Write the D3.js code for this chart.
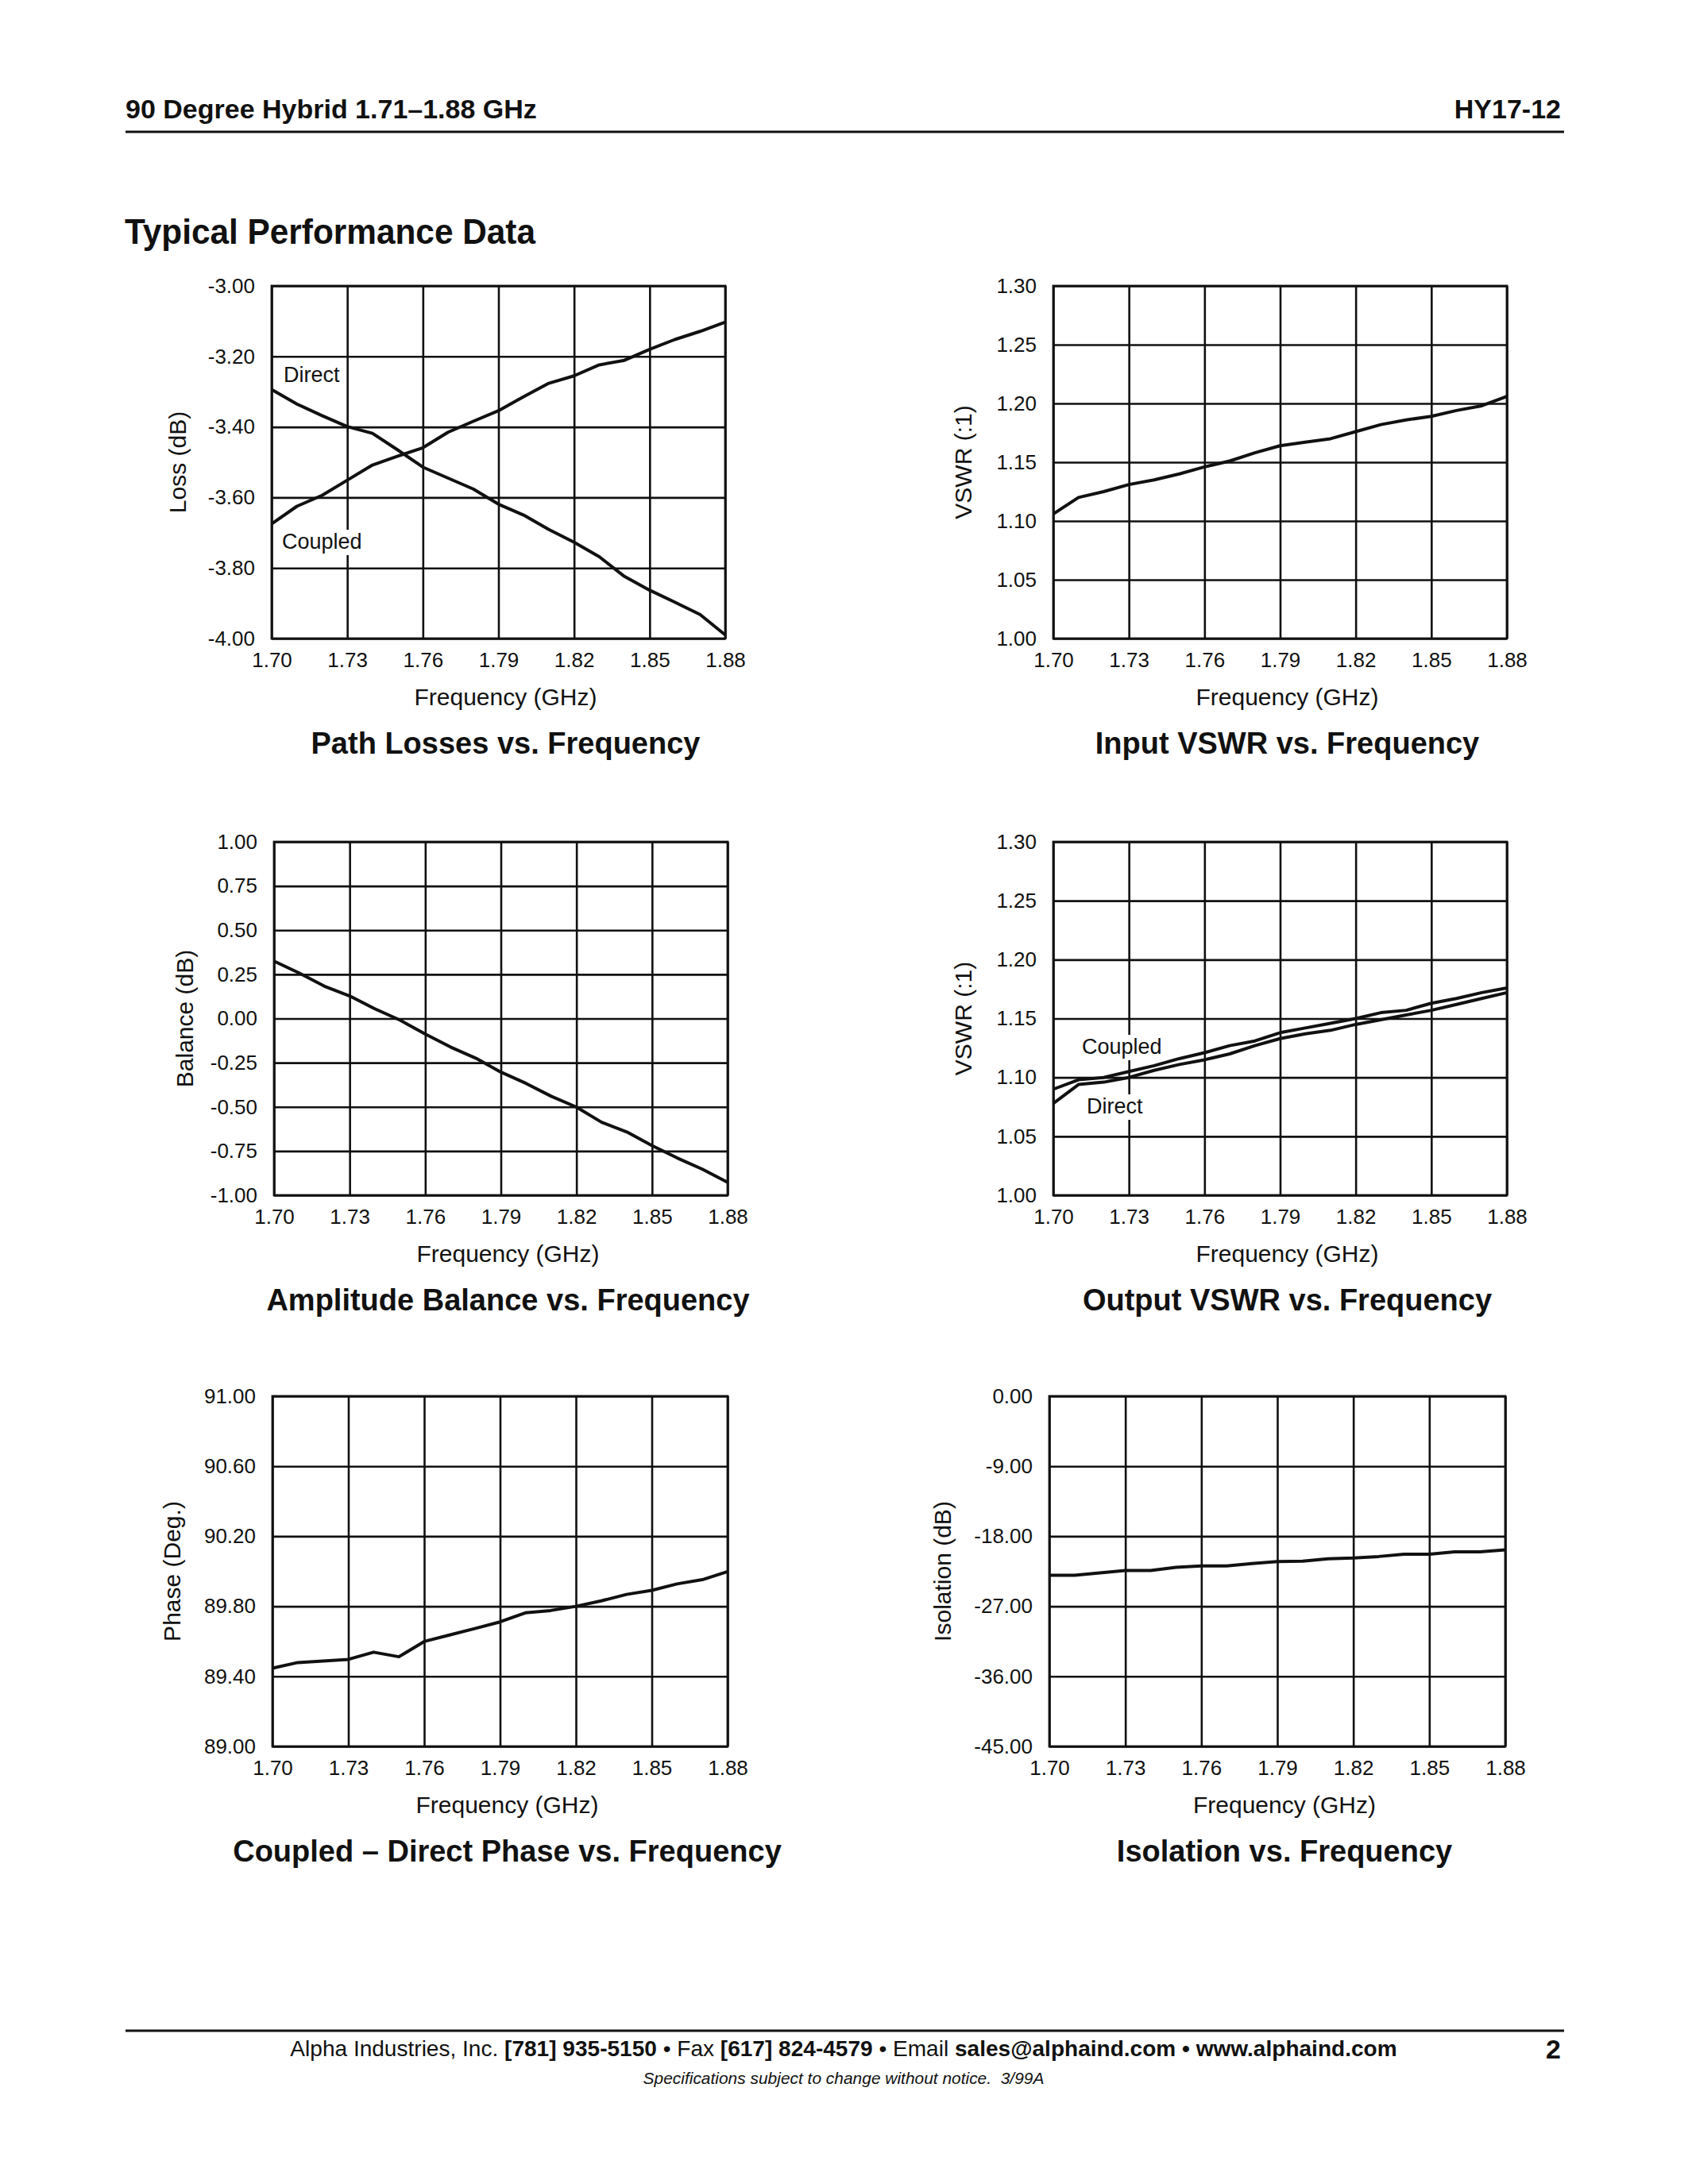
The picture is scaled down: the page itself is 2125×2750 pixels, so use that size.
<!DOCTYPE html>
<html><head><meta charset="utf-8">
<script src="https://cdn.jsdelivr.net/npm/d3@7"></script>
<style>body{margin:0;background:#fff} svg{display:block}</style>
</head><body>
<svg id="c" width="2125" height="2750"></svg>
<script>
// ---------- DATA ----------
const freq = [1.70,1.71,1.72,1.73,1.74,1.75,1.76,1.77,1.78,1.79,1.80,1.81,1.82,1.83,1.84,1.85,1.86,1.87,1.88];
const xTicks = [1.70,1.73,1.76,1.79,1.82,1.85,1.88];

const lossTicks = [-3.00,-3.20,-3.40,-3.60,-3.80,-4.00];
const pathDirect  = [-3.294,-3.335,-3.368,-3.399,-3.418,-3.465,-3.514,-3.545,-3.576,-3.619,-3.650,-3.691,-3.727,-3.768,-3.824,-3.863,-3.897,-3.932,-3.990];
const pathCoupled = [-3.675,-3.625,-3.594,-3.551,-3.508,-3.483,-3.459,-3.415,-3.384,-3.354,-3.314,-3.276,-3.255,-3.224,-3.211,-3.180,-3.152,-3.129,-3.103];

const vswrTicks = [1.30,1.25,1.20,1.15,1.10,1.05,1.00];
const inputVswr = [1.106,1.120,1.125,1.131,1.135,1.140,1.146,1.151,1.158,1.164,1.167,1.170,1.176,1.182,1.186,1.189,1.194,1.198,1.206];

const balanceTicks = [1.00,0.75,0.50,0.25,0.00,-0.25,-0.50,-0.75,-1.00];
const balance = [0.325,0.257,0.183,0.128,0.055,-0.009,-0.088,-0.161,-0.224,-0.303,-0.367,-0.440,-0.501,-0.587,-0.642,-0.719,-0.789,-0.853,-0.927];

const outVswrCoupled = [1.090,1.098,1.100,1.105,1.110,1.116,1.121,1.127,1.131,1.138,1.142,1.146,1.150,1.155,1.157,1.163,1.167,1.172,1.176];
const outVswrDirect  = [1.078,1.094,1.096,1.100,1.106,1.111,1.115,1.120,1.127,1.133,1.137,1.140,1.145,1.149,1.153,1.157,1.162,1.167,1.172];

const phaseTicks = [91.00,90.60,90.20,89.80,89.40,89.00];
const phase = [89.447,89.479,89.488,89.497,89.538,89.512,89.599,89.636,89.673,89.711,89.763,89.776,89.800,89.831,89.868,89.891,89.928,89.952,89.998];

const isolationTicks = [0.00,-9.00,-18.00,-27.00,-36.00,-45.00];
const isolation = [-23.0,-23.0,-22.7,-22.4,-22.4,-22.0,-21.8,-21.8,-21.5,-21.25,-21.2,-20.9,-20.8,-20.6,-20.3,-20.3,-20.0,-20.0,-19.75];

// ---------- DRAW ----------
const FONT = "'Liberation Sans', Arial, Helvetica, sans-serif";
const svg = d3.select('#c');
svg.append('rect').attr('width',2125).attr('height',2750).attr('fill','#fff');

// Header
svg.append('text').attr('x',158).attr('y',149).attr('font-family',FONT).attr('font-weight','bold')
  .attr('font-size',34).attr('fill','#111').text('90 Degree Hybrid 1.71–1.88 GHz');
svg.append('text').attr('x',1965).attr('y',149).attr('text-anchor','end').attr('font-family',FONT).attr('font-weight','bold')
  .attr('font-size',34).attr('fill','#111').text('HY17-12');
svg.append('line').attr('x1',158).attr('x2',1969).attr('y1',166).attr('y2',166).attr('stroke','#111').attr('stroke-width',3);
svg.append('text').attr('x',157).attr('y',307).attr('font-family',FONT).attr('font-weight','bold')
  .attr('font-size',44).attr('textLength',517).attr('lengthAdjust','spacingAndGlyphs').attr('fill','#111').text('Typical Performance Data');

const charts = [
  {left:342, top:360, w:571, h:444, dom:[-4,-3], ticks:lossTicks, series:[pathDirect,pathCoupled],
   yTitle:'Loss (dB)', title:'Path Losses vs. Frequency', yOff:118,
   labels:[{t:'Direct',x:357,y:481},{t:'Coupled',x:355,y:691}]},
  {left:1326, top:360, w:571, h:444, dom:[1.0,1.3], ticks:vswrTicks, series:[inputVswr],
   yTitle:'VSWR (:1)', title:'Input VSWR vs. Frequency', yOff:113, labels:[]},
  {left:345, top:1060, w:571, h:445, dom:[-1,1], ticks:balanceTicks, series:[balance],
   yTitle:'Balance (dB)', title:'Amplitude Balance vs. Frequency', yOff:112, labels:[]},
  {left:1326, top:1060, w:571, h:445, dom:[1.0,1.3], ticks:vswrTicks, series:[outVswrCoupled,outVswrDirect],
   yTitle:'VSWR (:1)', title:'Output VSWR vs. Frequency', yOff:113,
   labels:[{t:'Coupled',x:1362,y:1327},{t:'Direct',x:1368,y:1402}]},
  {left:343, top:1758, w:573, h:441, dom:[89,91], ticks:phaseTicks, series:[phase],
   yTitle:'Phase (Deg.)', title:'Coupled – Direct Phase vs. Frequency', yOff:126, labels:[]},
  {left:1321, top:1758, w:574, h:441, dom:[-45,0], ticks:isolationTicks, series:[isolation],
   yTitle:'Isolation (dB)', title:'Isolation vs. Frequency', yOff:134, labels:[]}
];

const fmt = d => d.toFixed(2);

charts.forEach(c => {
  const g = svg.append('g').attr('transform',`translate(${c.left},${c.top})`);
  const x = d3.scaleLinear().domain([1.70,1.88]).range([0,c.w]);
  const y = d3.scaleLinear().domain(c.dom).range([c.h,0]);

  // x axis with grid
  const xa = g.append('g').attr('transform',`translate(0,${c.h})`)
    .call(d3.axisBottom(x).tickValues(xTicks).tickSize(-c.h).tickPadding(18).tickFormat(fmt));
  // y axis with grid
  const ya = g.append('g')
    .call(d3.axisLeft(y).tickValues(c.ticks).tickSize(-c.w).tickPadding(21).tickFormat(fmt));
  [xa,ya].forEach(a => {
    a.select('.domain').remove();
    a.selectAll('line').attr('stroke','#111').attr('stroke-width',2.6);
    a.selectAll('text').attr('font-family',FONT).attr('font-size',26).attr('fill','#111');
  });

  // labels with white knockout
  c.labels.forEach(l => {
    const t = svg.append('text').attr('x',l.x).attr('y',l.y).attr('font-family',FONT)
      .attr('font-size',27).attr('fill','#111').text(l.t);
    const b = t.node().getBBox();
    svg.insert('rect', () => t.node()).attr('x',b.x-3).attr('y',b.y).attr('width',b.width+6).attr('height',b.height+2).attr('fill','#fff');
  });

  // data lines
  const line = d3.line().x((d,i)=>x(freq[i])).y(d=>y(d));
  c.series.forEach(s => {
    svg.append('path').attr('transform',`translate(${c.left},${c.top})`).datum(s).attr('d',line)
      .attr('fill','none').attr('stroke','#111').attr('stroke-width',4).attr('stroke-linejoin','round');
  });

  // frame
  svg.append('rect').attr('x',c.left).attr('y',c.top).attr('width',c.w).attr('height',c.h)
    .attr('fill','none').attr('stroke','#111').attr('stroke-width',2.8);

  // titles
  const cx = c.left + c.w/2 + 9;
  svg.append('text').attr('x',cx).attr('y',c.top+c.h+84).attr('text-anchor','middle')
    .attr('font-family',FONT).attr('font-size',30).attr('fill','#111').text('Frequency (GHz)');
  svg.append('text').attr('x',cx).attr('y',c.top+c.h+145).attr('text-anchor','middle')
    .attr('font-family',FONT).attr('font-weight','bold').attr('font-size',38).attr('fill','#111').text(c.title);
  const ty = c.top + c.h/2, tx = c.left - c.yOff + 10;
  svg.append('text').attr('transform',`translate(${tx},${ty}) rotate(-90)`).attr('text-anchor','middle')
    .attr('font-family',FONT).attr('font-size',30).attr('fill','#111').text(c.yTitle);
});

// Footer
svg.append('line').attr('x1',158).attr('x2',1969).attr('y1',2557).attr('y2',2557).attr('stroke','#111').attr('stroke-width',3);
const ft = svg.append('text').attr('x',1062).attr('y',2589).attr('text-anchor','middle')
  .attr('font-family',FONT).attr('font-size',24).attr('fill','#111');
[['Alpha Industries, Inc. ',false],['[781] 935-5150',true],[' • Fax ',false],['[617] 824-4579',true],
 [' • Email ',false],['sales@alphaind.com • www.alphaind.com',true]].forEach(p => {
  ft.append('tspan').attr('font-weight',p[1]?'bold':'normal').text(p[0]);
});
const fw = ft.node().getBBox().width;
ft.attr('font-size', 24*1394/fw);
svg.append('text').attr('x',1965).attr('y',2592).attr('text-anchor','end').attr('font-family',FONT)
  .attr('font-weight','bold').attr('font-size',34).attr('fill','#111').text('2');
const st = svg.append('text').attr('x',1062).attr('y',2624).attr('text-anchor','middle').attr('font-family',FONT)
  .attr('font-style','italic').attr('font-size',19).attr('fill','#111').text('Specifications subject to change without notice.  3/99A')
  .attr('xml:space','preserve');
const sw = st.node().getBBox().width;
st.attr('font-size', 19*505/sw);
</script>
</body></html>
